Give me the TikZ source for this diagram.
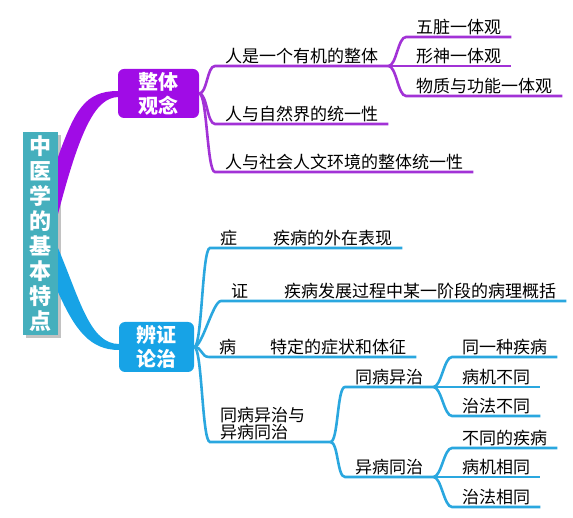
\documentclass[tikz,border=0pt]{standalone}
\usepackage{fontspec}
\setmainfont{Noto Sans CJK SC}
\usetikzlibrary{shadows, calc}

\definecolor{rootteal}{HTML}{45AFBD}
\definecolor{holpurple}{HTML}{A00CE6}
\definecolor{holline}{HTML}{A232D6}
\definecolor{diagblue}{HTML}{17A3E6}
\definecolor{diagline}{HTML}{2AA7DF}

\tikzset{
  topic/.style={rounded corners=6pt, text=white, inner sep=0pt, align=center,
    font=\fontsize{20}{24}\selectfont\bfseries},
  leaf/.style={anchor=south west, inner xsep=10pt, inner ysep=2pt, align=left,
    font=\fontsize{17}{17}\selectfont},
  pline/.style={holline, line width=2.6pt},
  bline/.style={diagline, line width=2.6pt},
  branch/.style={to path={.. controls ($(\tikztostart)+(8,0)$) and ($(\tikztotarget)+(-8,0)$) .. (\tikztotarget)}}
}

\begin{document}
\begin{tikzpicture}[x=1pt, y=-1pt]
  \useasboundingbox (0,0) rectangle (573,518);

  % Root
  \node[fill=rootteal, minimum width=35pt, minimum height=203pt, inner sep=0pt,
    text=white, align=center, font=\fontsize{22}{25}\selectfont\bfseries,
    drop shadow={shadow xshift=3pt, shadow yshift=-3pt, fill=black!40, opacity=.6}]
    (root) at (40.5,233.5) {中\\医\\学\\的\\基\\本\\特\\点};

  % Main topics
  \node[topic, fill=holpurple, minimum width=81pt, minimum height=49pt] (hol) at (158.5,93.5) {整体\\观念};
  \node[topic, fill=diagblue, minimum width=75pt, minimum height=50pt] (diag) at (156.5,347) {辨证\\论治};

  % Tapered links
  \fill[holpurple] (58,157) .. controls (75,110) and (85,91) .. (118,91) -- (118,97)
    .. controls (95,98) and (80,130) .. (58,214) -- cycle;
  \fill[diagblue] (58,248) .. controls (80,300) and (90,344) .. (119,344) -- (119,350)
    .. controls (90,350) and (75,330) .. (58,292) -- cycle;

  % Holism branch
  \node[leaf] (p1) at (215,66) {人是一个有机的整体};
  \node[leaf] (p2) at (215,124) {人与自然界的统一性};
  \node[leaf] (p3) at (215,172) {人与社会人文环境的整体统一性};
  \node[leaf] (q1) at (406,37) {五脏一体观};
  \node[leaf] (q2) at (406,66) {形神一体观};
  \node[leaf] (q3) at (406,96) {物质与功能一体观};

  \foreach \n in {p1,p2,p3}
    \draw[pline] (hol.east) to[branch] (\n.south west) -- (\n.south east);
  \foreach \n in {q1,q2,q3}
    \draw[pline] (p1.south east) to[branch] (\n.south west) -- (\n.south east);

  % Differentiation branch
  \node[leaf] (s1) at (210,248) {症\hspace{36pt}疾病的外在表现};
  \node[leaf] (s2) at (221,301) {证\hspace{36pt}疾病发展过程中某一阶段的病理概括};
  \node[leaf] (s3) at (209,357) {病\hspace{34pt}特定的症状和体征};
  \node[leaf, text width=100pt] (s4) at (210,442) {同病异治与\\异病同治};
  \node[leaf] (t1) at (345,387) {同病异治};
  \node[leaf] (t2) at (345,477) {异病同治};
  \node[leaf] (u1) at (452,357) {同一种疾病};
  \node[leaf] (u2) at (452,387) {病机不同};
  \node[leaf] (u3) at (452,416) {治法不同};
  \node[leaf] (v1) at (452,448) {不同的疾病};
  \node[leaf] (v2) at (452,477) {病机相同};
  \node[leaf] (v3) at (452,507) {治法相同};

  \foreach \n in {s1,s2,s3,s4}
    \draw[bline] (diag.east) to[branch] (\n.south west) -- (\n.south east);
  \foreach \n in {t1,t2}
    \draw[bline] (s4.south east) to[branch] (\n.south west) -- (\n.south east);
  \foreach \n in {u1,u2,u3}
    \draw[bline] (t1.south east) to[branch] (\n.south west) -- (\n.south east);
  \foreach \n in {v1,v2,v3}
    \draw[bline] (t2.south east) to[branch] (\n.south west) -- (\n.south east);
\end{tikzpicture}
\end{document}
